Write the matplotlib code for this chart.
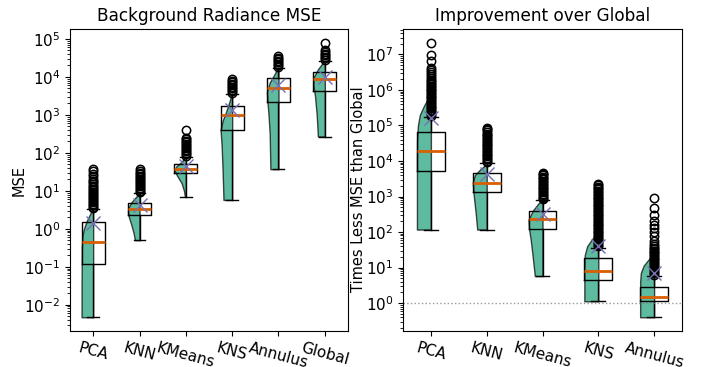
import matplotlib
matplotlib.use('Agg')
import matplotlib.pyplot as plt
import numpy as np

# all values are log10 of the plotted quantity

## left panel: background radiance MSE
mse_names = ['PCA', 'KNN', 'KMeans', 'KNS', 'Annulus', 'Global']
mse_whislo = [-2.33, -0.30, 0.85, 0.76, 1.57, 2.43]
mse_q1 = [-0.92, 0.36, 1.46, 2.60, 3.33, 3.64]
mse_med = [-0.35, 0.53, 1.57, 3.00, 3.70, 3.95]
mse_q3 = [0.17, 0.68, 1.70, 3.24, 3.96, 4.13]
mse_whishi = [0.51, 0.93, 1.89, 3.55, 4.24, 4.42]
mse_mean = [0.16, 0.62, 1.66, 3.13, 3.78, 4.00]
mse_fliers = [
    [0.54, 0.58, 0.62, 0.66, 0.70, 0.74, 0.78, 0.82, 0.86, 0.90, 0.94, 0.98, 1.02, 1.06,
     1.10, 1.14, 1.18, 1.22, 1.27, 1.32, 1.38, 1.45, 1.51, 1.58],
    [0.96, 1.00, 1.04, 1.08, 1.12, 1.16, 1.20, 1.24, 1.28, 1.32, 1.36, 1.40, 1.44, 1.48,
     1.53, 1.58],
    [1.92, 1.96, 2.00, 2.04, 2.08, 2.12, 2.16, 2.20, 2.24, 2.28, 2.32, 2.36, 2.39, 2.60],
    [3.58, 3.62, 3.66, 3.70, 3.74, 3.78, 3.82, 3.86, 3.90, 3.94],
    [4.27, 4.31, 4.35, 4.39, 4.43, 4.47, 4.51, 4.55],
    [4.45, 4.49, 4.53, 4.57, 4.61, 4.65, 4.70, 4.90],
]
# violin outlines: log10 levels and relative half widths
mse_vlev = [
    [-2.33, -1.5, -0.5, -0.2, 0.0, 0.2, 0.35, 0.51],
    [-0.30, -0.1, 0.1, 0.3, 0.45, 0.55, 0.7, 0.85, 0.93],
    [0.85, 1.0, 1.2, 1.4, 1.55, 1.65, 1.75, 1.89],
    [0.76, 1.5, 2.2, 2.6, 2.85, 3.1, 3.35, 3.55],
    [1.57, 2.5, 3.0, 3.33, 3.6, 3.85, 4.05, 4.24],
    [2.43, 3.0, 3.5, 3.8, 4.0, 4.2, 4.42],
]
mse_vwid = [
    [1.0, 1.0, 0.98, 0.93, 0.8, 0.56, 0.33, 0.05],
    [0.39, 0.52, 0.7, 0.91, 1.0, 0.96, 0.7, 0.26, 0.05],
    [0.08, 0.16, 0.36, 0.76, 1.0, 0.8, 0.4, 0.05],
    [0.75, 0.82, 0.91, 1.0, 0.82, 0.5, 0.23, 0.05],
    [0.7, 0.76, 0.86, 0.95, 1.0, 0.76, 0.38, 0.05],
    [0.6, 0.7, 0.85, 1.0, 0.95, 0.6, 0.05],
]

## right panel: improvement over global
imp_names = ['PCA', 'KNN', 'KMeans', 'KNS', 'Annulus']
imp_whislo = [2.07, 2.07, 0.76, 0.05, -0.40]
imp_q1 = [3.71, 3.13, 2.08, 0.66, 0.07]
imp_med = [4.29, 3.39, 2.37, 0.90, 0.16]
imp_q3 = [4.83, 3.66, 2.60, 1.26, 0.44]
imp_whishi = [5.25, 3.94, 2.89, 1.56, 0.77]
imp_mean = [5.20, 3.62, 2.51, 1.61, 0.86]
imp_fliers = [
    [5.28, 5.32, 5.36, 5.40, 5.44, 5.48, 5.52, 5.56, 5.60, 5.64, 5.68, 5.72, 5.76, 5.80,
     5.84, 5.88, 5.92, 5.96, 6.00, 6.04, 6.08, 6.12, 6.16, 6.20, 6.24, 6.28, 6.33, 6.38,
     6.44, 6.50, 6.56, 6.61, 6.81, 6.98, 7.33],
    [3.97, 4.01, 4.05, 4.09, 4.13, 4.17, 4.21, 4.25, 4.29, 4.33, 4.37, 4.41, 4.45, 4.49,
     4.53, 4.57, 4.61, 4.65, 4.69, 4.73, 4.77, 4.81, 4.86, 4.90, 4.94],
    [2.92, 2.96, 3.00, 3.04, 3.08, 3.12, 3.16, 3.20, 3.24, 3.28, 3.32, 3.36, 3.40, 3.44,
     3.48, 3.52, 3.56, 3.60, 3.64, 3.67],
    [1.60, 1.64, 1.68, 1.72, 1.76, 1.80, 1.84, 1.88, 1.92, 1.96, 2.00, 2.04, 2.08, 2.12,
     2.16, 2.20, 2.24, 2.28, 2.32, 2.36, 2.40, 2.44, 2.48, 2.52, 2.56, 2.60, 2.64, 2.68,
     2.72, 2.76, 2.80, 2.84, 2.88, 2.92, 2.96, 3.00, 3.04, 3.08, 3.12, 3.16, 3.20, 3.24,
     3.28, 3.32, 3.36],
    [0.80, 0.84, 0.88, 0.92, 0.96, 1.00, 1.04, 1.08, 1.12, 1.16, 1.20, 1.24, 1.28, 1.32,
     1.36, 1.40, 1.44, 1.48, 1.52, 1.56, 1.60, 1.65, 1.76, 1.88, 2.00, 2.11, 2.20, 2.32,
     2.49, 2.68, 2.96],
]
imp_vlev = [
    [2.07, 3.0, 4.0, 4.6, 5.0, 5.3, 5.55, 5.7, 5.78],
    [2.07, 2.5, 3.0, 3.4, 3.6, 3.75, 3.9],
    [0.76, 1.3, 1.8, 2.1, 2.35, 2.6, 2.8, 2.89],
    [0.05, 0.5, 1.0, 1.35, 1.6, 1.8, 1.98],
    [-0.40, 0.2, 0.6, 0.85, 1.05, 1.2, 1.37],
]
imp_vwid = [
    [1.0, 1.0, 1.0, 0.99, 0.93, 0.79, 0.5, 0.29, 0.05],
    [0.68, 0.78, 0.92, 1.0, 0.85, 0.5, 0.05],
    [0.55, 0.7, 0.85, 0.97, 1.0, 0.7, 0.3, 0.05],
    [1.0, 1.0, 1.0, 0.97, 0.8, 0.45, 0.05],
    [1.0, 1.0, 1.0, 0.95, 0.75, 0.45, 0.05],
]

GREEN = '#1b9e77'
ORANGE = '#d95f02'
PURPLE = '#7570b3'

plt.rcParams['font.size'] = 11


def draw(ax, names, whislo, q1, med, q3, whishi, mean, fliers, vlev, vwid):
    pos = np.arange(1, len(names) + 1)
    vstats = []
    for i in range(len(names)):
        lev = np.array(vlev[i])
        vstats.append({'coords': 10.0 ** lev, 'vals': np.array(vwid[i]),
                       'mean': 10.0 ** mean[i], 'median': 10.0 ** med[i],
                       'min': 10.0 ** lev[0], 'max': 10.0 ** lev[-1]})
    parts = ax.violin(vstats, positions=pos, widths=0.5, showextrema=False, side='low')
    for b in parts['bodies']:
        b.set_facecolor(GREEN)
        b.set_edgecolor('black')
        b.set_linewidth(1)
        b.set_alpha(0.7)

    bstats = []
    for i in range(len(names)):
        bstats.append({'med': 10.0 ** med[i], 'q1': 10.0 ** q1[i], 'q3': 10.0 ** q3[i],
                       'whislo': 10.0 ** whislo[i], 'whishi': 10.0 ** whishi[i],
                       'mean': 10.0 ** mean[i], 'fliers': 10.0 ** np.array(fliers[i]),
                       'label': names[i]})
    ax.bxp(bstats, positions=pos, widths=0.5, showmeans=True,
           medianprops=dict(color=ORANGE, linewidth=2),
           meanprops=dict(marker='x', markeredgecolor=PURPLE, markersize=10, markeredgewidth=1),
           flierprops=dict(marker='o', markerfacecolor='none', markeredgecolor='black',
                           markersize=6, markeredgewidth=1.1))
    ax.set_yscale('log')
    ax.set_xlim(0.5, len(names) + 0.5)
    ax.set_xticks(pos)
    ax.set_xticklabels(names, rotation=-15)


fig, (ax1, ax2) = plt.subplots(1, 2, figsize=(7.02, 3.67), dpi=100)
ax1.set_position([70 / 702, 36 / 367, 278 / 702, 302 / 367])
ax2.set_position([403 / 702, 36 / 367, 279 / 702, 302 / 367])

draw(ax1, mse_names, mse_whislo, mse_q1, mse_med, mse_q3, mse_whishi, mse_mean,
     mse_fliers, mse_vlev, mse_vwid)
ax1.set_title('Background Radiance MSE', fontsize=12.2)
ax1.set_ylabel('MSE', fontsize=10.5)
ax1.yaxis.set_label_coords(-0.155, 0.5)

draw(ax2, imp_names, imp_whislo, imp_q1, imp_med, imp_q3, imp_whishi, imp_mean,
     imp_fliers, imp_vlev, imp_vwid)
ax2.axhline(1, color='gray', linestyle=':', linewidth=1, alpha=0.8)
ax2.set_title('Improvement over Global', fontsize=12.2)
ax2.set_ylabel('Times Less MSE than Global', fontsize=10.5)
ax2.yaxis.set_label_coords(-0.134, 0.47)

fig.savefig('out.png', dpi=100)
